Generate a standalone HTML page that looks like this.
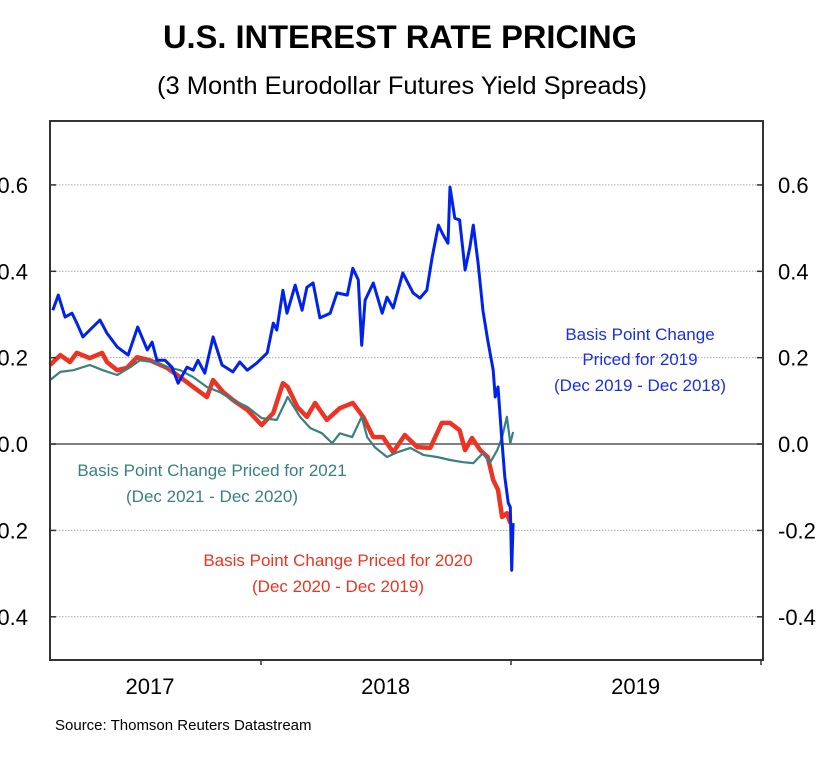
<!DOCTYPE html>
<html><head><meta charset="utf-8"><style>
body{margin:0;background:#fff}
svg text{font-family:"Liberation Sans",sans-serif}
</style></head><body>
<svg id="c" width="832" height="752" xmlns="http://www.w3.org/2000/svg">
<text x="400" y="48" text-anchor="middle" font-size="32" font-weight="bold" textLength="474" lengthAdjust="spacingAndGlyphs">U.S. INTEREST RATE PRICING</text>
<text x="402" y="94" text-anchor="middle" font-size="25" textLength="490" lengthAdjust="spacingAndGlyphs">(3 Month Eurodollar Futures Yield Spreads)</text>
<g id="grid"></g>
<g id="series"></g>
<rect x="50" y="121" width="713" height="539" fill="none" stroke="#333" stroke-width="2"/>
<g id="axes"></g>
<text x="640" y="340" text-anchor="middle" font-size="17" fill="#1a2ee8">Basis Point Change</text>
<text x="640" y="365" text-anchor="middle" font-size="17" fill="#1a2ee8">Priced for 2019</text>
<text x="640" y="391" text-anchor="middle" font-size="17" fill="#1a2ee8">(Dec 2019 - Dec 2018)</text>
<text x="212" y="476" text-anchor="middle" font-size="17" fill="#3a8080">Basis Point Change Priced for 2021</text>
<text x="212" y="502" text-anchor="middle" font-size="17" fill="#3a8080">(Dec 2021 - Dec 2020)</text>
<text x="338" y="566" text-anchor="middle" font-size="17" fill="#ee3322">Basis Point Change Priced for 2020</text>
<text x="338" y="592" text-anchor="middle" font-size="17" fill="#ee3322">(Dec 2020 - Dec 2019)</text>
<text x="55" y="730" font-size="15">Source: Thomson Reuters Datastream</text>
</svg>
<script>
const yTicks=[0.6,0.4,0.2,0.0,-0.2,-0.4];
const yTickLabels=["0.6","0.4","0.2","0.0","-0.2","-0.4"];
const xYears=["2017","2018","2019"];
const blueDays=[61,69,79,89,96,105,115,130,140,155,171,185,199,206,213,225,235,244,257,266,273,283,295,308,324,334,345,359,374,383,388,397,403,415,425,432,441,451,466,476,491,499,507,512,517,529,542,549,558,572,587,597,607,615,624,631,638,641,648,655,663,670,675,682,689,696,704,707,711,717,721,726,729,731,733];
const blueVals=[.310,.345,.294,.303,.280,.248,.264,.287,.257,.225,.206,.271,.218,.236,.194,.194,.178,.141,.178,.171,.194,.164,.248,.183,.167,.190,.171,.188,.211,.280,.264,.356,.303,.368,.310,.363,.373,.292,.303,.350,.345,.407,.380,.229,.333,.373,.303,.340,.315,.396,.350,.338,.356,.433,.507,.484,.465,.595,.523,.519,.403,.456,.507,.419,.310,.241,.171,.109,.132,.002,-.076,-.137,-.146,-.292,-.183];
const redDays=[57,72,86,96,115,133,140,155,169,184,203,228,247,266,286,295,310,324,345,366,383,397,404,418,432,444,461,480,499,514,529,543,558,575,593,612,629,641,655,663,673,685,696,704,711,717,724,729];
const redVals=[.183,.206,.190,.211,.199,.211,.190,.171,.176,.201,.194,.176,.155,.132,.109,.148,.120,.102,.079,.044,.072,.141,.132,.086,.063,.095,.056,.083,.095,.063,.016,.016,-.019,.021,-.007,-.009,.049,.049,.032,-.014,.014,-.014,-.030,-.083,-.106,-.169,-.160,-.183];
const tealDays=[57,72,91,115,134,155,174,188,207,228,247,266,286,305,324,345,366,388,404,422,437,454,469,480,498,512,520,531,549,564,583,602,622,641,660,675,689,699,710,717,724,729,733];
const tealVals=[.148,.167,.171,.183,.171,.160,.178,.194,.190,.178,.171,.155,.132,.120,.102,.086,.060,.056,.109,.063,.037,.025,.002,.025,.016,.063,.016,-.007,-.030,-.019,-.009,-.025,-.030,-.037,-.042,-.044,-.021,-.044,-.014,.016,.063,.002,.028];

const NS="http://www.w3.org/2000/svg";
const X0=50,X1=763,Y0=121,Y1=660,VMIN=-0.5,VMAX=0.748;
function xs(day){return 11+day*250/365;}
function ys(v){return Y1-(v-VMIN)/(VMAX-VMIN)*(Y1-Y0);}
function mk(tag,attrs,parent){const e=document.createElementNS(NS,tag);for(const k in attrs)e.setAttribute(k,attrs[k]);parent.appendChild(e);return e;}
const grid=document.getElementById('grid'),axes=document.getElementById('axes'),ser=document.getElementById('series');
yTicks.forEach((v,i)=>{
  const y=ys(v);
  const g=mk('line',{x1:X0,x2:X1,y1:y,y2:y,stroke:v===0?'#555':'#aaa','stroke-width':v===0?1.5:1,'stroke-dasharray':v===0?'none':'1.5,1.5'},grid);
  
  
  const tl=mk('line',{x1:X0,x2:X0+6,y1:y,y2:y,stroke:'#333','stroke-width':1.5},axes);
  
  
  const tr=mk('line',{x1:X1-6,x2:X1,y1:y,y2:y,stroke:'#333','stroke-width':1.5},axes);
  
  
  const l=mk('text',{x:28,y:y+8,'text-anchor':'end','font-size':22},axes);l.textContent=yTickLabels[i];
  
  
  const r=mk('text',{x:778,y:y+8,'font-size':22},axes);r.textContent=yTickLabels[i];
  
  
});
xYears.forEach((yr,i)=>{
  const xb=xs(365*(i+1));
  const t=mk('line',{x1:xb,x2:xb,y1:Y1,y2:Y1+5,stroke:'#333','stroke-width':1.5},axes);
  
  
  const xc=xs(365*i+182);
  const l=mk('text',{x:i===0?150:xc,y:694,'text-anchor':'middle','font-size':22},axes);l.textContent=yr;
  
  
});
function line(days,vals,color,w,name){
  const d=days.map((dd,i)=>(i?'L':'M')+xs(dd).toFixed(1)+','+ys(vals[i]).toFixed(1)).join('');
  const p=mk('path',{d:d,fill:'none',stroke:color,'stroke-width':w,'stroke-linejoin':'round'},ser);
  
  
}
line(redDays,redVals,'#ee3322',4.5,'series-2020');
line(tealDays,tealVals,'#3a8080',2.2,'series-2021');
line(blueDays,blueVals,'#0022ee',3,'series-2019');
</script>
</body></html>
